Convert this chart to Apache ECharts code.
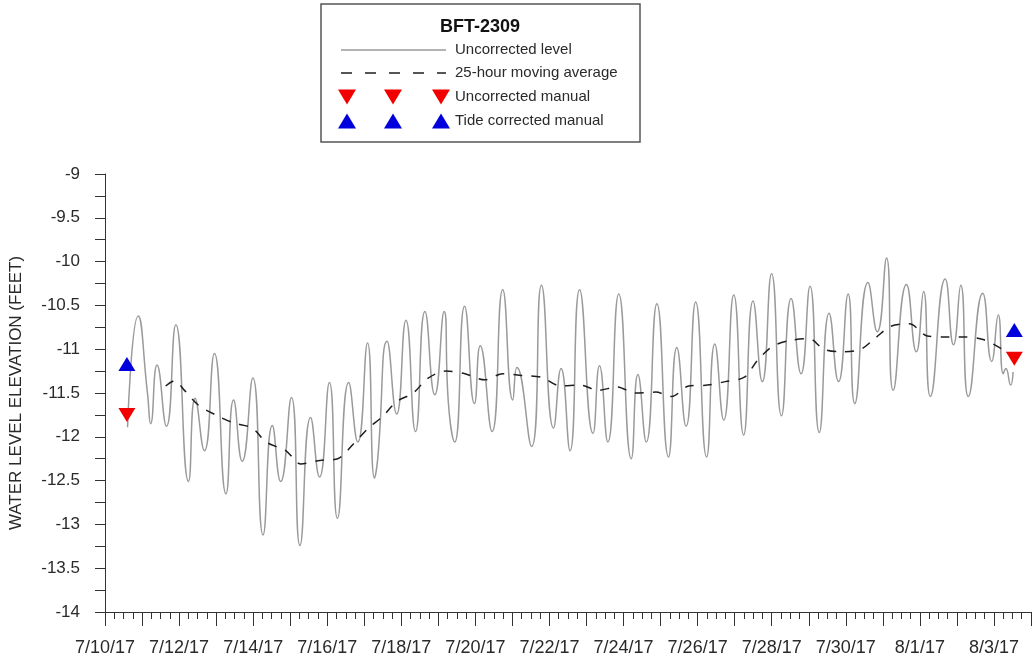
<!DOCTYPE html>
<html>
<head>
<meta charset="utf-8">
<title>BFT-2309 water level</title>
<script src="https://cdn.jsdelivr.net/npm/echarts@6/dist/echarts.min.js"></script>
<style>
  html, body { margin: 0; padding: 0; background: #fff; }
  #chart { width: 1036px; height: 666px; }
</style>
</head>
<body>
<div id="chart"></div>
<script>
// Well BFT-2309, hourly record starting 7/10/17 00:00.
// Times are hours since the start date; levels are feet.
const startYear = 2017, startMonth = 6, startDay = 10;

// Uncorrected level: highs, lows and shoulders of the tidal signal
const levelHours = [14.6, 21.5, 27.5, 29.6, 33.7, 39.8, 45.9, 54.1, 58.4, 64.4, 70.9, 78.4, 83.3, 88.9, 95.8, 102.4, 108.4, 113.8, 120.8, 126.3, 133.2, 139.0, 145.4, 150.6, 157.9, 163.8, 170.1, 174.6, 176.7, 182.8, 189.0, 195.0, 201.2, 207.3, 213.7, 219.7, 222.7, 226.6, 233.0, 239.4, 243.1, 250.8, 257.7, 264.2, 266.9, 276.4, 282.8, 290.6, 295.5, 301.3, 307.5, 316.2, 320.4, 325.8, 332.9, 341.0, 345.3, 350.7, 357.6, 365.1, 370.5, 376.5, 382.7, 389.8, 395.1, 400.9, 407.4, 413.8, 419.9, 425.9, 431.9, 438.3, 444.6, 451.0, 456.8, 462.8, 469.2, 475.3, 481.5, 485.8, 494.4, 500.4, 506.4, 510.7, 519.3, 525.7, 530.4, 534.8, 544.4, 549.8, 554.5, 559.4, 568.7, 574.5, 578.8, 582.0, 583.7, 586.8, 588.4];
const levelValues = [-11.89, -10.62, -11.50, -11.85, -11.18, -11.88, -10.72, -12.51, -11.56, -12.16, -11.05, -12.65, -11.58, -12.28, -11.33, -13.12, -11.87, -12.51, -11.55, -13.24, -11.78, -12.46, -11.38, -12.93, -11.38, -12.06, -10.93, -12.47, -12.25, -10.91, -11.74, -10.67, -11.94, -10.57, -11.52, -10.57, -11.66, -12.06, -10.51, -11.62, -10.96, -11.94, -10.32, -11.58, -11.21, -12.11, -10.27, -11.90, -11.22, -12.16, -10.32, -11.96, -11.19, -12.06, -10.37, -12.25, -11.29, -12.06, -10.48, -12.23, -10.98, -11.88, -10.46, -12.23, -10.94, -11.81, -10.38, -11.98, -10.45, -11.37, -10.14, -11.76, -10.42, -11.28, -10.28, -11.95, -10.59, -11.37, -10.37, -11.62, -10.24, -10.80, -9.96, -11.47, -10.26, -11.03, -10.34, -11.54, -10.20, -10.95, -10.27, -11.54, -10.36, -11.14, -10.61, -11.28, -11.22, -11.41, -11.26];

// 25-hour moving average
const maHours = [39.3, 45.1, 51.5, 60.6, 72.8, 83.1, 95.4, 104.4, 117.3, 126.9, 139.2, 150.8, 161.1, 170.7, 179.8, 188.8, 199.7, 209.4, 221.0, 233.2, 246.1, 257.7, 270.0, 282.8, 295.1, 308.0, 319.6, 331.8, 343.4, 356.9, 367.2, 378.2, 390.4, 402.0, 414.3, 422.7, 432.3, 443.9, 456.2, 465.8, 477.4, 489.7, 499.3, 509.0, 521.2, 532.8, 543.8, 556.0, 568.9, 581.2, 583.5];
const maValues = [-11.42, -11.36, -11.47, -11.64, -11.76, -11.84, -11.90, -12.06, -12.16, -12.31, -12.27, -12.25, -12.08, -11.90, -11.77, -11.60, -11.50, -11.33, -11.25, -11.28, -11.35, -11.28, -11.30, -11.32, -11.42, -11.41, -11.47, -11.43, -11.50, -11.49, -11.54, -11.42, -11.41, -11.37, -11.32, -11.13, -10.97, -10.90, -10.88, -11.00, -11.03, -11.00, -10.87, -10.74, -10.71, -10.85, -10.86, -10.86, -10.89, -11.00, -11.05];

// Manual measurements
const manualHours = [14.2, 589.2];
const manualUncorrected = [-11.75, -11.11];
const manualTideCorrected = [-11.17, -10.78];

const seriesNames = ['Uncorrected level', '25-hour moving average', 'Uncorrected manual', 'Tide corrected manual'];
const wellName = 'BFT-2309';
const yAxisTitle = 'WATER LEVEL ELEVATION (FEET)';

const LEVEL_COLOR = '#9a9a9a';
const MA_COLOR = '#1e1e1e';
const RED = '#f20000';
const BLUE = '#0000dc';
const TEXT = '#2a2a2a';
const FONT = '"Liberation Sans", Arial, sans-serif';

const zip = (xs, ys) => xs.map((x, i) => [x, ys[i]]);

function dateLabel(hours) {
  const day = Math.round(hours / 24);
  if (day % 2 !== 0) return '';
  const d = new Date(startYear, startMonth, startDay + day);
  return (d.getMonth() + 1) + '/' + d.getDate() + '/' + String(d.getFullYear()).slice(2);
}

function triangle(cx, cy, w, h, down, color) {
  const pts = down
    ? [[cx - w / 2, cy - h / 2], [cx + w / 2, cy - h / 2], [cx, cy + h / 2]]
    : [[cx - w / 2, cy + h / 2], [cx + w / 2, cy + h / 2], [cx, cy - h / 2]];
  return { type: 'polygon', shape: { points: pts }, style: { fill: color }, z: 101 };
}

// Legend box
const legendGraphics = [
  { type: 'rect', shape: { x: 321, y: 4, width: 319, height: 138 },
    style: { fill: '#fff', stroke: '#555', lineWidth: 1.5 }, z: 100 },
  { type: 'text', x: 480, y: 27, z: 101,
    style: { text: wellName, font: 'bold 18px ' + FONT, fill: '#111', align: 'center', verticalAlign: 'middle' } },
  { type: 'line', shape: { x1: 341, y1: 50, x2: 446, y2: 50 }, z: 101,
    style: { stroke: LEVEL_COLOR, lineWidth: 1.5 } },
  { type: 'line', shape: { x1: 341, y1: 73, x2: 446, y2: 73 }, z: 101,
    style: { stroke: MA_COLOR, lineWidth: 1.5, lineDash: [11, 13] } }
];
[347, 393, 441].forEach(cx => {
  legendGraphics.push(triangle(cx, 97, 18, 15, true, RED));
  legendGraphics.push(triangle(cx, 121, 18, 15, false, BLUE));
});
[50, 73, 97, 121].forEach((y, i) => {
  legendGraphics.push({ type: 'text', x: 455, y: y, z: 101,
    style: { text: seriesNames[i], font: '15px ' + FONT, fill: TEXT, align: 'left', verticalAlign: 'middle' } });
});

const chart = echarts.init(document.getElementById('chart'), null, { renderer: 'canvas' });
chart.setOption({
  animation: false,
  backgroundColor: '#fff',
  grid: { left: 100, right: 5, top: 174, bottom: 54 },
  xAxis: {
    type: 'value',
    min: 0, max: 600, interval: 24,
    axisLine: { onZero: false, lineStyle: { color: '#333', width: 1 } },
    axisTick: { length: 14, lineStyle: { color: '#333' } },
    minorTick: { show: true, splitNumber: 4, length: 7, lineStyle: { color: '#333' } },
    splitLine: { show: false },
    axisLabel: { formatter: dateLabel, margin: 27, fontSize: 18, color: TEXT, fontFamily: FONT, hideOverlap: false }
  },
  yAxis: {
    type: 'value',
    min: -14, max: -9, interval: 0.25,
    name: yAxisTitle,
    nameLocation: 'middle',
    nameGap: 80,
    nameTextStyle: { fontSize: 17, color: TEXT, fontFamily: FONT },
    axisLine: { show: true, onZero: false, lineStyle: { color: '#333', width: 1 } },
    axisTick: { show: true, length: 10, lineStyle: { color: '#333' } },
    splitLine: { show: false },
    axisLabel: {
      margin: 25, fontSize: 17, color: TEXT, fontFamily: FONT,
      formatter: v => Math.abs(v * 2 - Math.round(v * 2)) < 1e-6 ? String(Math.round(v * 100) / 100) : ''
    }
  },
  graphic: legendGraphics,
  series: [
    {
      name: seriesNames[0], type: 'line', data: zip(levelHours, levelValues),
      smooth: 0.55, showSymbol: false, symbol: 'none',
      lineStyle: { color: LEVEL_COLOR, width: 1.5 }, z: 2
    },
    {
      name: seriesNames[1], type: 'line', data: zip(maHours, maValues),
      smooth: 0.3, showSymbol: false, symbol: 'none',
      lineStyle: { color: MA_COLOR, width: 1.5, type: [9, 9] }, z: 3
    },
    {
      name: seriesNames[2], type: 'scatter', data: zip(manualHours, manualUncorrected),
      symbol: 'triangle', symbolSize: [17, 14], symbolRotate: 180,
      itemStyle: { color: RED, opacity: 1 }, z: 4
    },
    {
      name: seriesNames[3], type: 'scatter', data: zip(manualHours, manualTideCorrected),
      symbol: 'triangle', symbolSize: [17, 14],
      itemStyle: { color: BLUE, opacity: 1 }, z: 4
    }
  ]
});
</script>
</body>
</html>
